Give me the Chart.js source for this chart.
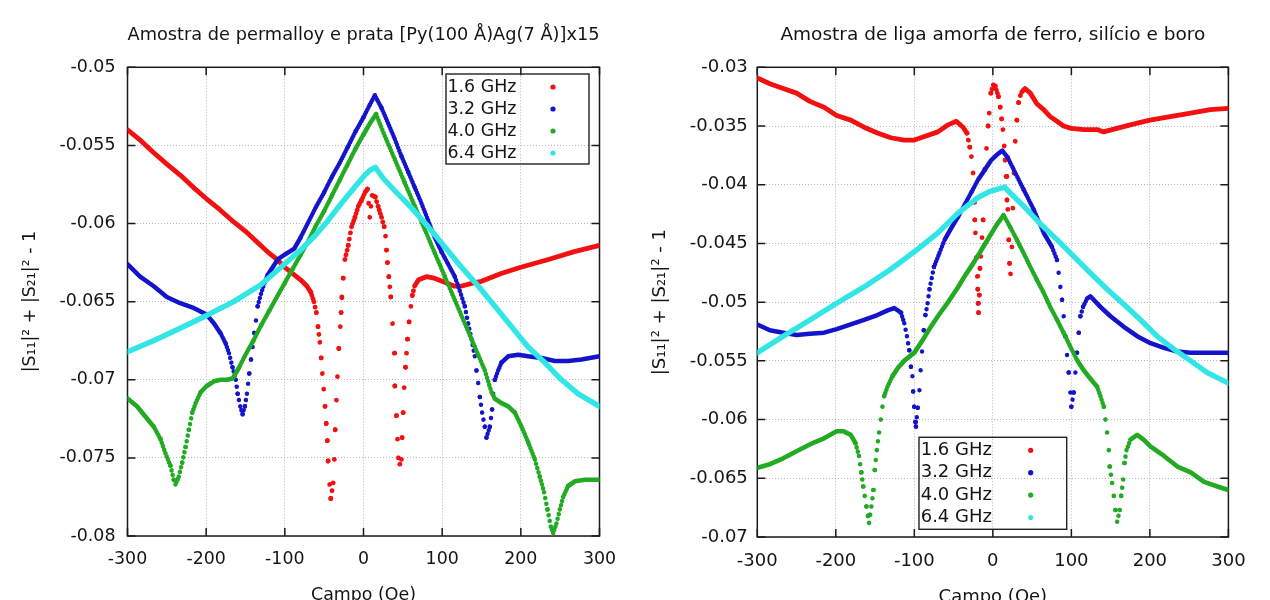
<!DOCTYPE html>
<html>
<head>
<meta charset="utf-8">
<script src="https://cdn.jsdelivr.net/npm/chart.js@4.4.1/dist/chart.umd.min.js"></script>
<style>
html,body{margin:0;padding:0;background:#fff;overflow:hidden;width:1270px;height:600px;}
.wrap{position:absolute;top:0;}
</style>
</head>
<body>
<div class="wrap" style="left:0px;"><canvas id="c1" width="640" height="606"></canvas></div>
<div class="wrap" style="left:640px;"><canvas id="c2" width="630" height="608"></canvas></div>
<script>
// ---------------- DATA ----------------
const seriesNames = ["1.6 GHz", "3.2 GHz", "4.0 GHz", "6.4 GHz"];
const xTicks = [-300, -200, -100, 0, 100, 200, 300];
const xTickLabels = ["-300", "-200", "-100", "0", "100", "200", "300"];
const yTicksLeft = [-0.08, -0.075, -0.07, -0.065, -0.06, -0.055, -0.05];
const yTickLabelsLeft = ["-0.08", "-0.075", "-0.07", "-0.065", "-0.06", "-0.055", "-0.05"];
const yTicksRight = [-0.07, -0.065, -0.06, -0.055, -0.05, -0.045, -0.04, -0.035, -0.03];
const yTickLabelsRight = ["-0.07", "-0.065", "-0.06", "-0.055", "-0.05", "-0.045", "-0.04", "-0.035", "-0.03"];
const titleLeft = "Amostra de permalloy e prata [Py(100 Å)Ag(7 Å)]x15";
const titleRight = "Amostra de liga amorfa de ferro, silício e boro";
const xTitle = "Campo (Oe)";
const yTitle = "|S₁₁|² + |S₂₁|² - 1";
const sampleStepOe = 1.5; // field step between measured points

// Left panel: [campo (Oe), value]
const pyAg16 = [[-300,-0.0540],[-283,-0.0547],[-267,-0.05545],[-250,-0.0562],[-233,-0.0569],[-216,-0.0577],[-200,-0.0584],[-183,-0.0591],[-165,-0.0599],[-150,-0.0605],[-135,-0.0612],[-120,-0.0619],[-110,-0.0623],[-100,-0.0628],[-90,-0.0632],[-80,-0.0636],[-72,-0.0640],[-67,-0.0644],[-63,-0.0650],
[-60,-0.0657],[-57.8,-0.0666],[-55.5,-0.0676],[-53.8,-0.0686],[-52.3,-0.0696],[-50.6,-0.0706],[-48.9,-0.0717],[-47.4,-0.0728],[-46,-0.0739],[-45,-0.0752],[-43,-0.0767],[-41.6,-0.0776],[-38.5,-0.0766],[-37,-0.0751],[-36,-0.0732],[-34.4,-0.0713],[-33.1,-0.0698],[-31.4,-0.0680],[-29.5,-0.0666],[-28.5,-0.0657],[-27.5,-0.0647],[-25.8,-0.0635],[-23.6,-0.0623],[-19.4,-0.0614],[-15.2,-0.0602],[-10.9,-0.0596],[-6.6,-0.0589],[-2.4,-0.0585],[2,-0.0580],[5,-0.0578],[8,-0.0596],[11,-0.0582],[15,-0.0583],[18.6,-0.0589],[22.9,-0.0596],[26.3,-0.0602],[28,-0.0608],[29.2,-0.0617],[30.5,-0.0625],[32.2,-0.0634],[34.7,-0.0647],[36.9,-0.0664],[39,-0.0683],[39.8,-0.0704],[41.9,-0.0723],[43.2,-0.0738],[44.5,-0.0750],[46.2,-0.0754],[48.3,-0.0751],[49.1,-0.0737],[50.4,-0.0721],[51.7,-0.0705],[53.4,-0.0692],[55.9,-0.0674],[58,-0.0663],[60.2,-0.0653],[62,-0.0646],[65,-0.0640],[70,-0.0636],[80,-0.0634],[90,-0.0635],[100,-0.0637],[115,-0.0640],[125,-0.0640],[140,-0.0638],[150,-0.0637],[175,-0.0632],[200,-0.0628],[235,-0.0623],[268,-0.0618],[300,-0.0614]];

const pyAg32 = [[-300,-0.0626],[-284,-0.0634],[-267,-0.0640],[-250,-0.0647],[-233,-0.0651],[-216,-0.0654],[-200,-0.0658],[-190,-0.0664],[-182,-0.0670],[-175,-0.0677],[-171,-0.0683],[-166.5,-0.0692],[-162.3,-0.0700],[-160,-0.0709],[-156.7,-0.0717],[-153.7,-0.0722],[-150.8,-0.0717],[-148.2,-0.0709],[-145.2,-0.0696],[-143,-0.0687],[-141,-0.0679],[-138.8,-0.0670],[-136.7,-0.0662],[-134.6,-0.0653],[-130.3,-0.0645],[-126,-0.0638],[-121.8,-0.0633],[-115.4,-0.0628],[-109,-0.0623],[-100.5,-0.0620],[-94,-0.0618],[-88,-0.0616],[-80,-0.0609],[-70,-0.0599],[-60,-0.0589],[-50,-0.0580],[-40,-0.0570],[-30,-0.0561],[-20,-0.0551],[-10,-0.0541],[0,-0.0532],[8,-0.0524],[14.4,-0.0518],[22.9,-0.0526],[31.4,-0.0536],[39.8,-0.0546],[48.3,-0.0557],[56.8,-0.0567],[65.2,-0.0577],[73.7,-0.0587],[82.2,-0.0598],[90.7,-0.0609],[99.1,-0.0618],[107.6,-0.0626],[116.1,-0.0634],[122.4,-0.0643],[128.8,-0.0653],[133,-0.0664],[137.3,-0.0674],[141.5,-0.0685],[143.6,-0.0694],[145.8,-0.0702],[147.9,-0.0711],[150.8,-0.0721],[154.2,-0.0730],[156.3,-0.0737],[160.6,-0.0730],[163.5,-0.0719],[164.8,-0.0709],[166.9,-0.0700],[171.2,-0.0694],[175.4,-0.0689],[183.9,-0.0685],[196.6,-0.0684],[209.3,-0.0685],[226.3,-0.0686],[243.2,-0.0688],[260,-0.0688],[277,-0.0687],[300,-0.0685]];

const pyAg40 = [[-300,-0.0712],[-288,-0.0717],[-275,-0.0725],[-266.7,-0.0730],[-258,-0.0738],[-251.8,-0.0747],[-245.4,-0.0755],[-241.2,-0.0764],[-239,-0.0767],[-234.8,-0.0762],[-230.5,-0.0753],[-226.2,-0.0743],[-222,-0.0732],[-217.7,-0.0721],[-213.4,-0.0715],[-207,-0.0708],[-199.4,-0.0704],[-190,-0.0701],[-181.5,-0.0700],[-173,-0.0700],[-166,-0.0699],[-158,-0.0692],[-150,-0.0684],[-140,-0.0675],[-130,-0.0665],[-120,-0.0656],[-110,-0.0647],[-100,-0.0638],[-90,-0.0629],[-80,-0.0620],[-70,-0.0611],[-60,-0.0601],[-50,-0.0592],[-40,-0.0582],[-30,-0.0572],[-20,-0.0562],[-10,-0.0552],[0,-0.0543],[8,-0.0536],[16,-0.0530],[27.1,-0.0544],[39.8,-0.0559],[52.5,-0.0574],[65.2,-0.0589],[78,-0.0604],[90.7,-0.0619],[103.4,-0.0634],[116.1,-0.0649],[128.8,-0.0664],[141.5,-0.0679],[154.2,-0.0694],[162.7,-0.0708],[166.9,-0.0712],[175.4,-0.0715],[183.9,-0.0717],[192.4,-0.0721],[200.8,-0.0730],[209.3,-0.0740],[217.8,-0.0751],[224.1,-0.0762],[229.6,-0.0772],[233.9,-0.0783],[238.1,-0.0794],[241.1,-0.0798],[245.3,-0.0792],[249.6,-0.0783],[253.8,-0.0775],[260.1,-0.0768],[268.6,-0.0765],[281.3,-0.0764],[300,-0.0764]];

const pyAg64 = [[-300,-0.0682],[-267,-0.0675],[-233,-0.0667],[-200,-0.0659],[-165,-0.0650],[-130,-0.0639],[-96,-0.0624],[-80,-0.0617],[-62,-0.0608],[-45,-0.0598],[-28,-0.0587],[-10,-0.0576],[0,-0.0570],[8,-0.0566],[15,-0.0564],[25,-0.0571],[39.8,-0.0579],[61,-0.0590],[82.2,-0.0602],[103.4,-0.0615],[124.6,-0.0628],[145.8,-0.0640],[167,-0.0653],[188.1,-0.0666],[209.3,-0.0679],[230.5,-0.0689],[251.7,-0.0700],[273,-0.0709],[300,-0.0717]];

// Right panel: [campo (Oe), value]
const feSiB16 = [[-300,-0.0309],[-284,-0.0314],[-267,-0.0318],[-250,-0.0322],[-233,-0.0329],[-215,-0.0334],[-199,-0.0341],[-181,-0.0345],[-164,-0.0351],[-147,-0.0356],[-130,-0.0360],[-113,-0.0362],[-100,-0.0362],[-87,-0.0359],[-70,-0.0355],[-57,-0.0349],[-46.5,-0.0346],[-38,-0.0351],[-33,-0.0356],[-29.4,-0.0368],[-27.3,-0.0376],[-25.2,-0.0390],[-23.8,-0.0415],[-23,-0.0430],[-22.2,-0.0441],[-20.8,-0.0462],[-19.8,-0.0478],[-19.2,-0.0489],[-18.8,-0.0501],[-18.2,-0.0509],[-17.2,-0.0494],[-16.4,-0.0471],[-15.4,-0.0461],[-13.8,-0.0445],[-12.4,-0.0430],[-10.2,-0.0387],[-8.1,-0.0369],[-6,-0.0350],[-4.6,-0.0339],[-2.5,-0.0322],[0.5,-0.0315],[3,-0.0316],[7.2,-0.0325],[9.4,-0.0334],[11.2,-0.0344],[12.8,-0.0353],[14.5,-0.0367],[15.7,-0.0379],[16.8,-0.0393],[18,-0.0413],[19,-0.0421],[20.3,-0.0447],[21.3,-0.0467],[22.5,-0.0476],[24.3,-0.0453],[25.5,-0.0420],[27,-0.0390],[28.5,-0.0363],[30.6,-0.0345],[32.8,-0.0330],[35,-0.0324],[37,-0.0321],[41,-0.0318],[47.7,-0.0322],[56,-0.0331],[64.7,-0.0336],[73,-0.0342],[81.7,-0.0346],[90,-0.0350],[100,-0.0352],[116,-0.0353],[133,-0.0353],[141,-0.0355],[158,-0.0352],[175,-0.0349],[200,-0.0345],[226,-0.0342],[252,-0.0339],[277,-0.0336],[300,-0.0335]];

const feSiB32 = [[-300,-0.0519],[-284,-0.0524],[-267,-0.0526],[-250,-0.0528],[-233,-0.0527],[-215,-0.0526],[-199,-0.0523],[-181,-0.0519],[-164,-0.0515],[-147,-0.0511],[-134,-0.0507],[-125.6,-0.0505],[-117,-0.0509],[-112.8,-0.0518],[-109.4,-0.0529],[-106.4,-0.0541],[-104.3,-0.0555],[-102.5,-0.0563],[-101.5,-0.0576],[-100.2,-0.0589],[-99,-0.0602],[-98,-0.0606],[-95.7,-0.0590],[-93.5,-0.0575],[-92,-0.0558],[-90.2,-0.0542],[-88,-0.0524],[-85.9,-0.0511],[-83,-0.0501],[-80.7,-0.0489],[-75,-0.0470],[-68,-0.0458],[-61.5,-0.0447],[-53,-0.0437],[-44,-0.0427],[-36,-0.0417],[-27,-0.0406],[-19,-0.0396],[-10,-0.0387],[-2,-0.0379],[6,-0.0374],[12,-0.0371],[19,-0.0377],[26.4,-0.0387],[39.1,-0.0404],[51.9,-0.0421],[64.7,-0.0441],[75.3,-0.0453],[81.7,-0.0464],[83.8,-0.0475],[86,-0.0487],[88.1,-0.0498],[90.2,-0.0512],[92.3,-0.0529],[94.5,-0.0545],[96.6,-0.0560],[98.7,-0.0577],[100,-0.0589],[103,-0.0577],[105.1,-0.0560],[107.2,-0.0543],[109.4,-0.0526],[111.5,-0.0512],[114.9,-0.0504],[120,-0.0497],[124.2,-0.0495],[137,-0.0504],[149.8,-0.0512],[166.8,-0.0521],[183.8,-0.0529],[200.8,-0.0535],[217.9,-0.0539],[234.9,-0.0542],[251.9,-0.0543],[277.4,-0.0543],[300,-0.0543]];

const feSiB40 = [[-300,-0.0641],[-284,-0.0638],[-267,-0.0633],[-250,-0.0627],[-232.5,-0.0621],[-215,-0.0616],[-199,-0.0610],[-190,-0.0610],[-181,-0.0613],[-175,-0.0620],[-170.5,-0.0631],[-167.5,-0.0645],[-165,-0.0657],[-163.2,-0.0665],[-161,-0.0674],[-159,-0.0682],[-157.7,-0.0688],[-154.7,-0.0674],[-152.1,-0.0660],[-150.4,-0.0643],[-147.8,-0.0626],[-144.9,-0.0611],[-142.7,-0.0600],[-140.6,-0.0589],[-138.4,-0.0580],[-134.2,-0.0572],[-127.8,-0.0563],[-121,-0.0556],[-113,-0.0550],[-100,-0.0543],[-90,-0.0533],[-80,-0.0522],[-70,-0.0512],[-57,-0.0500],[-45,-0.0488],[-35,-0.0477],[-25,-0.0467],[-15,-0.0456],[-5,-0.0445],[5,-0.0434],[13.6,-0.0426],[22,-0.0436],[30.6,-0.0447],[39,-0.0458],[47.7,-0.0470],[56,-0.0481],[64.7,-0.0492],[73,-0.0504],[81.7,-0.0515],[90,-0.0526],[98.7,-0.0538],[107,-0.0549],[115.7,-0.0558],[124,-0.0565],[132.8,-0.0572],[137,-0.0580],[141.3,-0.0589],[143.4,-0.0600],[145.5,-0.0611],[147.7,-0.0626],[148.9,-0.0640],[151.9,-0.0654],[154,-0.0665],[156.2,-0.0677],[158.3,-0.0687],[161.7,-0.0677],[163.4,-0.0665],[166,-0.0651],[167.6,-0.0637],[170.2,-0.0626],[175.3,-0.0617],[183.8,-0.0613],[192,-0.0617],[201,-0.0623],[218,-0.0631],[235,-0.0640],[252,-0.0645],[269,-0.0653],[286,-0.0657],[300,-0.0660]];

const feSiB64 = [[-300,-0.0543],[-267,-0.0529],[-232.5,-0.0515],[-199,-0.0501],[-164,-0.0487],[-130,-0.0472],[-96,-0.0455],[-70,-0.0441],[-44,-0.0424],[-19,-0.0411],[-5,-0.0406],[5,-0.0404],[15,-0.0402],[25,-0.0409],[39,-0.0418],[60,-0.0433],[82,-0.0447],[103,-0.0461],[124,-0.0475],[145.5,-0.0489],[167,-0.0502],[188,-0.0515],[209,-0.0529],[230.6,-0.0540],[252,-0.0550],[273,-0.0560],[300,-0.0569]];

// ---------------- STYLE ----------------
const FONT = "'DejaVu Sans', 'Liberation Sans', sans-serif";
const TEXT = '#151515';
const colors = ['#f21010', '#1414cc', '#22aa22', '#33e6e6'];
const widths = [4.8, 4.5, 4.6, 5.4];
const GRID = '#b8b8b8';

// Steep stretches show the individual measured points as separate dots
function segDash(stepPx) {
  return ctx => {
    const dx = Math.abs(ctx.p1.x - ctx.p0.x);
    const dy = Math.abs(ctx.p1.y - ctx.p0.y);
    const len = Math.hypot(dx, dy);
    if (len < 0.5) return undefined;
    const step = stepPx * len / Math.max(dx, 0.01);
    if (step < 2.4) return undefined;
    const n = Math.max(1, Math.round(len / step));
    const sp = len / n;
    return [0.01, sp - 0.01];
  };
}

const framePlugin = {
  id: 'frame',
  beforeDatasetsDraw(chart) {
    const {ctx, chartArea: a, scales: {x, y}} = chart;
    ctx.save();
    ctx.strokeStyle = '#1a1a1a';
    ctx.lineWidth = 1.5;
    ctx.strokeRect(a.left, a.top, a.right - a.left, a.bottom - a.top);
    ctx.beginPath();
    const L = 8;
    x.ticks.forEach(t => {
      const px = x.getPixelForValue(t.value);
      ctx.moveTo(px, a.bottom); ctx.lineTo(px, a.bottom - L);
      ctx.moveTo(px, a.top); ctx.lineTo(px, a.top + L);
    });
    y.ticks.forEach(t => {
      const py = y.getPixelForValue(t.value);
      ctx.moveTo(a.left, py); ctx.lineTo(a.left + L, py);
      ctx.moveTo(a.right, py); ctx.lineTo(a.right - L, py);
    });
    ctx.stroke();
    ctx.restore();
  }
};

const keyPlugin = {
  id: 'keybox',
  afterDatasetsDraw(chart, args, o) {
    const {ctx} = chart;
    ctx.save();
    ctx.strokeStyle = '#222';
    ctx.lineWidth = 1.4;
    ctx.strokeRect(o.x0, o.y0, o.x1 - o.x0, o.y1 - o.y0);
    ctx.font = o.fs + 'px ' + FONT;
    ctx.textBaseline = 'middle';
    ctx.textAlign = 'left';
    chart.data.datasets.forEach((ds, i) => {
      const yy = o.ty + i * o.step;
      ctx.fillStyle = TEXT;
      ctx.fillText(ds.label, o.tx, yy);
      ctx.fillStyle = ds.borderColor;
      ctx.beginPath();
      ctx.arc(o.dot, yy, 2.6, 0, Math.PI * 2);
      ctx.fill();
    });
    ctx.restore();
  }
};

function makeChart(id, cfg) {
  const H = cfg.H;
  const FS = cfg.fs, FS_TITLE = cfg.fsTitle;
  const lh = FS * 1.2;
  const lhT = FS_TITLE * 1.2;
  const font = {family: FONT, size: FS, weight: 'normal', lineHeight: 1.2};
  const tfont = {family: FONT, size: FS_TITLE, weight: 'normal', lineHeight: 1.2};
  const stepPx = sampleStepOe * (cfg.area.right - cfg.area.left) / 600;
  cfg.key.fs = FS;
  return new Chart(document.getElementById(id), {
    type: 'scatter',
    data: {
      datasets: cfg.series.map((s, i) => ({
        label: seriesNames[i],
        data: s.map(p => ({x: p[0], y: p[1]})),
        showLine: true,
        borderColor: colors[i],
        backgroundColor: colors[i],
        borderWidth: widths[i],
        pointRadius: 0,
        pointHoverRadius: 0,
        tension: 0,
        borderCapStyle: 'round',
        borderJoinStyle: 'round',
        order: 3 - i,
        segment: {borderDash: segDash(stepPx)}
      }))
    },
    options: {
      responsive: false,
      animation: false,
      devicePixelRatio: 1,
      events: [],
      layout: {padding: {left: 0, top: 0, right: cfg.W - cfg.area.right, bottom: 0}},
      plugins: {
        legend: {display: false},
        tooltip: {enabled: false},
        title: {
          display: true, text: cfg.title, fullSize: false, color: TEXT, font: tfont,
          padding: {top: 35 - lhT / 2, bottom: cfg.area.top - 35 - lhT / 2}
        },
        keybox: cfg.key
      },
      scales: {
        x: {
          type: 'linear', position: 'bottom', min: -300, max: 300,
          afterBuildTicks: s => { s.ticks = xTicks.map(v => ({value: v})); },
          afterFit: s => { s.height = H - cfg.area.bottom; },
          ticks: {callback: (v, i) => xTickLabels[i], color: TEXT, font: font, padding: cfg.xPad, maxRotation: 0, autoSkip: false},
          grid: {color: GRID, lineWidth: 1, drawTicks: false},
          border: {display: false, dash: [1, 2]},
          title: {display: true, text: xTitle, color: TEXT, font: font, padding: {top: 0, bottom: 0}}
        },
        y: {
          type: 'linear', position: 'left', min: cfg.yTicks[0], max: cfg.yTicks[cfg.yTicks.length - 1],
          afterBuildTicks: s => { s.ticks = cfg.yTicks.map(v => ({value: v})); },
          afterFit: s => { s.width = cfg.area.left; },
          ticks: {callback: (v, i) => cfg.yLabels[i], color: TEXT, font: font, padding: cfg.yPad, autoSkip: false},
          grid: {color: GRID, lineWidth: 1, drawTicks: false},
          border: {display: false, dash: [1, 2]},
          title: {display: true, text: yTitle, color: TEXT, font: font, padding: {top: cfg.yTitleX - lh / 2, bottom: 0}}
        }
      }
    },
    plugins: [framePlugin, keyPlugin]
  });
}

makeChart('c1', {
  W: 640, H: 606, fs: 17.4, fsTitle: 17.9,
  series: [pyAg16, pyAg32, pyAg40, pyAg64],
  title: titleLeft,
  yTicks: yTicksLeft, yLabels: yTickLabelsLeft,
  area: {left: 127.5, top: 67.3, right: 599.5, bottom: 536},
  xPad: 13.5, yPad: 12, yTitleX: 30,
  key: {x0: 446, y0: 74, x1: 589, y1: 164, tx: 447.5, ty: 87, step: 22, dot: 553}
});

makeChart('c2', {
  W: 630, H: 608, fs: 18.0, fsTitle: 18.5,
  series: [feSiB16, feSiB32, feSiB40, feSiB64],
  title: titleRight,
  yTicks: yTicksRight, yLabels: yTickLabelsRight,
  area: {left: 117.3, top: 67.3, right: 588.4, bottom: 537},
  xPad: 13.8, yPad: 9.5, yTitleX: 20,
  key: {x0: 279, y0: 437.3, x1: 426.7, y1: 529.3, tx: 280.7, ty: 450.3, step: 22.4, dot: 390.7}
});
</script>
</body>
</html>
